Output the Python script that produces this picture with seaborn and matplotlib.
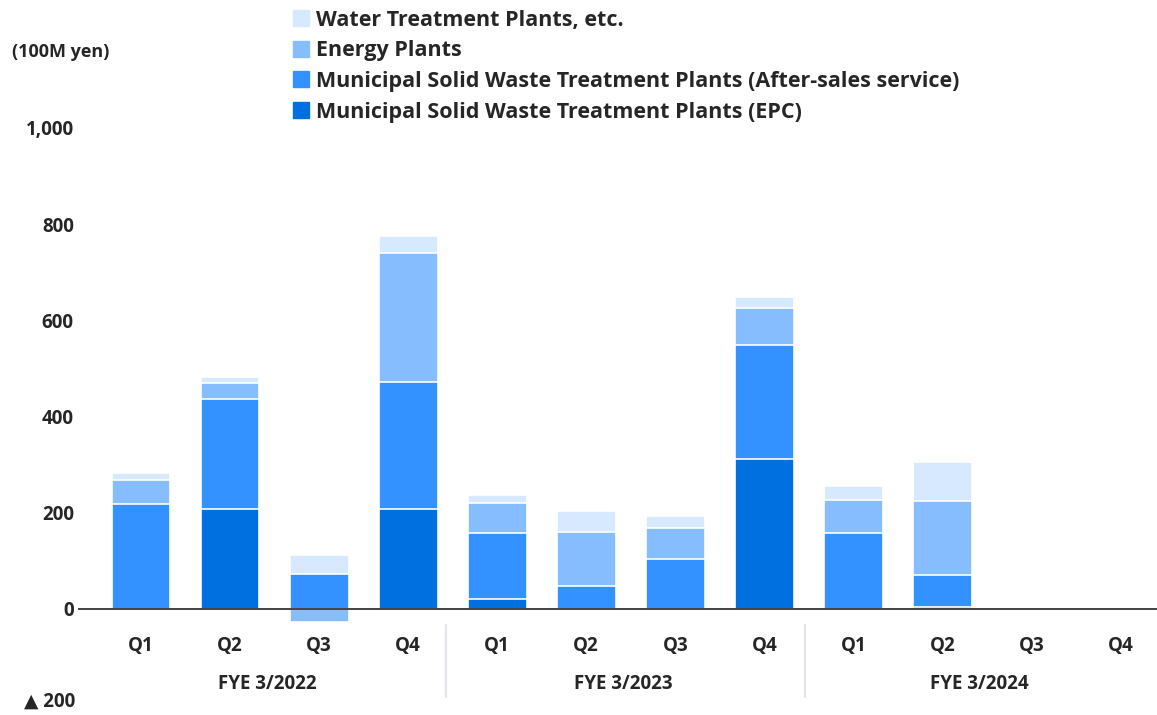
import matplotlib
matplotlib.use("Agg")
import matplotlib.pyplot as plt
import seaborn as sns
import numpy as np
import pandas as pd
from matplotlib.lines import Line2D

# ---- data (100M yen) ----
quarters = ["Q1", "Q2", "Q3", "Q4"] * 3
years = ["FYE 3/2022", "FYE 3/2023", "FYE 3/2024"]
epc = [0, 208, 0, 208, 20, 0, 0, 311, 0, 3, 0, 0]
after_sales = [217, 229, 72, 263, 137, 47, 104, 237, 158, 67, 0, 0]
energy = [50, 32, -28, 269, 64, 113, 65, 77, 69, 155, 0, 0]
water = [15, 14, 39, 35, 15, 43, 25, 23, 28, 80, 0, 0]
series_names = ["Water Treatment Plants, etc.", "Energy Plants",
                "Municipal Solid Waste Treatment Plants (After-sales service)",
                "Municipal Solid Waste Treatment Plants (EPC)"]
yticks = [0, 200, 400, 600, 800, 1000]
ytick_labels = ["0", "200", "400", "600", "800", "1,000"]
neg_tick = -200
neg_tick_label = "▲ 200"

colors = {"water": "#D6E9FF", "energy": "#85BDFF", "as": "#3392FF", "epc": "#0070E0"}

sns.set_style("white")
plt.rcParams["font.family"] = ["Open Sans", "DejaVu Sans"]

FS = 13.5
W = "bold"

fig = plt.figure(figsize=(11.57, 7.15), dpi=100)
ax = fig.add_axes([78 / 1157, 10 / 715, 1 - 78 / 1157, (705 - 128) / 715])

cats = [f"c{i}" for i in range(12)]
epc_a = np.array(epc, float)
as_a = np.array(after_sales, float)
en_a = np.array(energy, float)
wt_a = np.array(water, float)
en_pos = np.clip(en_a, 0, None)
en_neg = np.clip(en_a, None, 0)

top_epc = epc_a
top_as = top_epc + as_a
top_en = top_as + en_pos
top_wt = top_en + wt_a

layers = [(top_wt, colors["water"]), (top_en, colors["energy"]),
          (top_as, colors["as"]), (top_epc, colors["epc"]), (en_neg, colors["energy"])]
for vals, col in layers:
    df = pd.DataFrame({"cat": cats, "val": vals})
    sns.barplot(data=df, x="cat", y="val", order=cats, color=col, width=0.66,
                edgecolor="white", linewidth=1.2, saturation=1, ax=ax, errorbar=None)

ax.axhline(0, color="#222222", linewidth=1.2, zorder=5)

ax.set_xlim(-0.708, 11.41)
ax.set_ylim(-200, 1000)
ax.set_yticks(yticks)
ax.set_yticklabels(ytick_labels, fontsize=FS, fontweight=W)
ax.tick_params(axis="y", length=0, pad=3)
ax.set_xticks([])
ax.set_xlabel("")
ax.set_ylabel("")
for s in ax.spines.values():
    s.set_visible(False)

# negative tick label, nudged up slightly so it stays inside the figure
ax.annotate(neg_tick_label, xy=(0, neg_tick), xycoords=("axes fraction", "data"),
            xytext=(-3, 3), textcoords="offset pixels", ha="right", va="center",
            fontsize=FS, fontweight=W, annotation_clip=False)

# quarter and year labels
for i, q in enumerate(quarters):
    ax.text(i, -78, q, ha="center", va="center", fontsize=FS, fontweight=W, clip_on=False)
for g, y in enumerate(years):
    ax.text(g * 4 + 1.42, -157, y, ha="center", va="center", fontsize=FS,
            fontweight=W, clip_on=False)
for xs in [3.42, 7.46]:
    ax.plot([xs, xs], [-34, -184], color="#E1E5EB", linewidth=1.5, clip_on=False)

fig.text(12 / 1157, 1 - 52 / 715, "(100M yen)", ha="left", va="center",
         fontsize=FS - 0.5, fontweight=W)

handles = [Line2D([0], [0], marker="s", linestyle="", markersize=11,
                  markerfacecolor=c, markeredgecolor=c)
           for c in [colors["water"], colors["energy"], colors["as"], colors["epc"]]]
leg = fig.legend(handles, series_names, loc="upper left", bbox_to_anchor=(284 / 1157, 1 - 1 / 715),
                 frameon=False, prop={"size": 15.5, "weight": W},
                 handlelength=0.8, handletextpad=0.3, labelspacing=0.45, borderaxespad=0)

fig.savefig("out.png", dpi=100)
